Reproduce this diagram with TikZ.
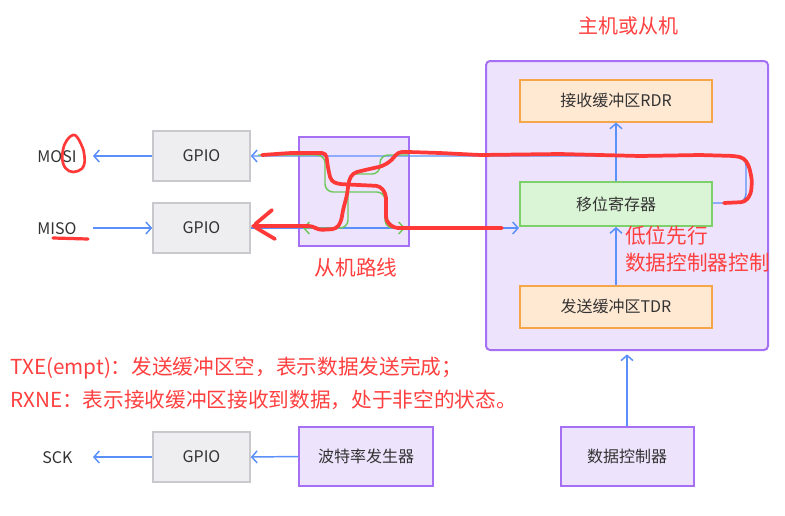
\documentclass[tikz,border=0pt]{standalone}
\usepackage{fontspec}
\setmainfont{Noto Sans CJK SC}
\usetikzlibrary{arrows.meta}
\definecolor{txt}{RGB}{51,51,51}
\definecolor{purp}{RGB}{166,112,245}
\definecolor{lav}{RGB}{237,227,252}
\definecolor{orab}{RGB}{246,166,72}
\definecolor{oraf}{RGB}{255,233,211}
\definecolor{grnb}{RGB}{126,208,104}
\definecolor{grnf}{RGB}{218,245,213}
\definecolor{gryb}{RGB}{201,201,205}
\definecolor{gryf}{RGB}{238,238,240}
\definecolor{blu}{RGB}{91,143,249}
\definecolor{grn}{RGB}{110,200,90}
\definecolor{redpen}{RGB}{255,56,56}
\definecolor{redtxt}{RGB}{255,64,64}
\tikzset{
  boxsize/.style 2 args={minimum width=#1*0.75pt, minimum height=#2*0.75pt},
  basebox/.style={inner sep=0pt, text=txt, font=\fontsize{12}{14}\selectfont},
  gpiobox/.style={basebox, draw=gryb, fill=gryf, line width=1.2pt, boxsize={97}{50}},
  purpbox/.style={basebox, draw=purp, fill=lav, line width=1.5pt},
  orabox/.style={basebox, draw=orab, fill=oraf, line width=1.5pt, boxsize={192}{42}},
  grnbox/.style={basebox, draw=grnb, fill=grnf, line width=1.5pt, boxsize={192}{44}},
  lbl/.style={inner sep=0pt, text=txt, font=\fontsize{12}{14}\selectfont},
  arr/.style={draw=blu, line width=1.1pt, -{Straight Barb[length=4pt,width=9pt]}},
  garr/.style={draw=grn, line width=1.1pt, rounded corners=6pt, -{Straight Barb[length=4pt,width=9pt]}},
  redline/.style={draw=redpen, line width=2.8pt, line cap=round, line join=round, rounded corners=3pt},
  rednote/.style={inner sep=0pt, text=redtxt, font=\fontsize{15.5}{18}\selectfont},
}
\begin{document}
\begin{tikzpicture}[x=0.75pt,y=-0.75pt]
\useasboundingbox (0,0) rectangle (785,515);
\fill[white] (0,0) rectangle (785,515);

% host frame
\node[purpbox, rounded corners=3pt, boxsize={282}{289}] (host) at (627,205.5) {};
\node[rednote, font=\fontsize{15}{18}\selectfont] (title) at (628,26) {主机或从机};
\node[orabox] (rdr) at (616,100.5) {接收缓冲区RDR};
\node[grnbox] (sr) at (616,204) {移位寄存器};
\node[orabox] (tdr) at (616,306.5) {发送缓冲区TDR};

% slave route box
\node[purpbox, boxsize={110}{109}] (route) at (354,191.5) {};
\node[rednote] (routelbl) at (356,268) {从机路线};

% GPIO boxes
\node[gpiobox] (g1) at (201.5,156) {GPIO};
\node[gpiobox] (g2) at (201.5,228) {GPIO};
\node[gpiobox] (g3) at (201.5,457) {GPIO};
\node[lbl] (mosi) at (57,157) {MOSI};
\node[lbl] (miso) at (57,229) {MISO};
\node[lbl] (sck) at (57.5,458) {SCK};

\node[purpbox, boxsize={134}{59}] (baud) at (366,456.5) {波特率发生器};
\node[purpbox, boxsize={133}{59}] (dc) at (627,456.5) {数据控制器};

% blue connectors
\coordinate (mosiend) at (93,156);
\coordinate (misostart) at (93,228);
\coordinate (sckend) at (93,457);
\draw[arr] (g1.west) -- (mosiend);
\draw[arr] (misostart) -- (g2.west);
\draw[arr] (g3.west) -- (sckend);
\draw[arr] (baud.west) -- (g3.east);
\draw[arr] (sr.north) -- (rdr.south);
\draw[arr] (tdr.north) -- (sr.south);
\draw[arr] (dc.north) -- ([yshift=-2.5pt]host.south -| dc.north);
\draw[arr, rounded corners=7pt] ([yshift=0.75pt]sr.east) -- ++(33,0) |- (g1.east);
\draw[arr] (g2.east) -- (g2.east -| sr.west);

% green slave routes
\draw[garr] (258,155) -- (325,155) -- (325,192) -- (385,192) -- (385,228) -- (405,228);
\draw[garr] (408,155) -- (380,155) -- (380,174) -- (348,174) -- (348,228) -- (303,228);

% red hand annotations
\draw[redline] (724,203) -- (745,202) -- (751,194) -- (752,180) -- (749,166) -- (744,158) -- (735,156) -- (700,155) -- (640,156) -- (560,154) -- (480,155) -- (440,153) -- (409,152) -- (398,152) -- (392,160) -- (383,166) -- (365,170) -- (353,173) -- (349,180) -- (347,195) -- (343,210) -- (341,222) -- (336,229) -- (318,230) -- (313,226) -- (300,226) -- (253,226);
\draw[redline] (272,210) -- (253,226) -- (275,239);
\draw[redline] (262,155) -- (290,153) -- (326,153) -- (328,168) -- (331,181) -- (338,184) -- (380,186) -- (386,194) -- (386,221) -- (394,228) -- (440,228) -- (502,228);
\draw[draw=redpen, line width=2pt, line cap=round] plot[smooth cycle, tension=0.7] coordinates {(73,135) (67,140) (63,150) (63,163) (69,171) (78,171) (84,165) (84,153) (81,144) (77,137)};
\draw[draw=redpen, line width=2.4pt, line cap=round] (53,238) -- (88,239);

% red notes
\node[rednote, anchor=west] (n1) at (625,236) {低位先行};
\node[rednote, anchor=west] (n2) at (625,263) {数据控制器控制};
\node[rednote, anchor=west] (n3) at (10,368) {TXE(empt)：发送缓冲区空，表示数据发送完成；};
\node[rednote, anchor=west] (n4) at (10,400) {RXNE：表示接收缓冲区接收到数据，处于非空的状态。};
\end{tikzpicture}
\end{document}
